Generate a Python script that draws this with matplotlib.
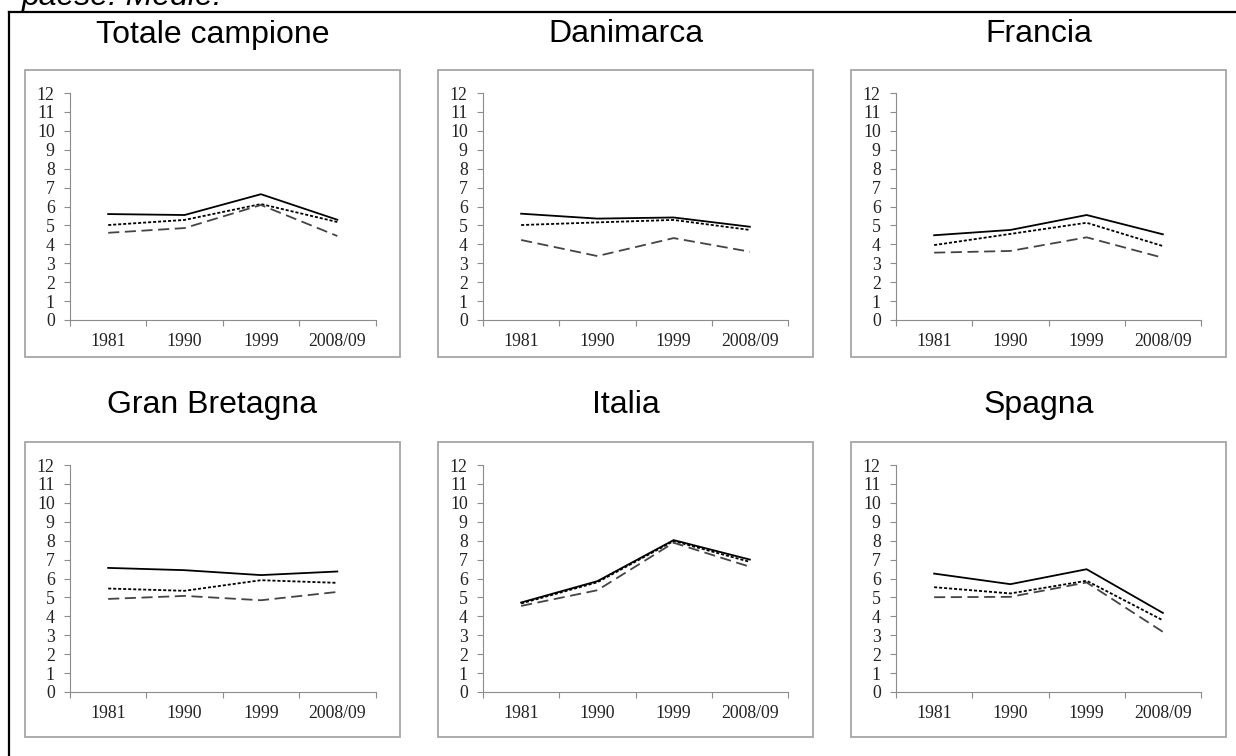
import matplotlib
matplotlib.use("Agg")
import matplotlib.pyplot as plt
from matplotlib.patches import Rectangle
from matplotlib.lines import Line2D

plt.rcParams['lines.scale_dashes'] = False

years = ["1981", "1990", "1999", "2008/09"]
countries = ["Totale campione", "Danimarca", "Francia",
             "Gran Bretagna", "Italia", "Spagna"]

# three series per panel: solid, dotted, dashed
solid = [
    [5.6, 5.55, 6.65, 5.3],
    [5.62, 5.36, 5.42, 4.93],
    [4.48, 4.76, 5.55, 4.53],
    [6.56, 6.44, 6.18, 6.37],
    [4.73, 5.86, 8.03, 7.0],
    [6.26, 5.7, 6.49, 4.18],
]
dotted = [
    [5.02, 5.29, 6.13, 5.18],
    [5.02, 5.16, 5.29, 4.76],
    [3.96, 4.55, 5.14, 3.91],
    [5.47, 5.35, 5.91, 5.77],
    [4.68, 5.8, 7.98, 6.88],
    [5.54, 5.21, 5.88, 3.79],
]
dashed = [
    [4.61, 4.86, 6.08, 4.44],
    [4.23, 3.38, 4.33, 3.61],
    [3.56, 3.65, 4.37, 3.29],
    [4.92, 5.08, 4.85, 5.29],
    [4.55, 5.38, 7.89, 6.62],
    [5.01, 5.03, 5.79, 3.18],
]

W, H = 1236, 756
fig = plt.figure(figsize=(W / 100, H / 100), dpi=100)

def fx(x):
    return x / W

def fy(y):
    return 1 - y / H

# caption cut off at the top, as in the scanned page
fig.text(fx(22), fy(5), "paese. Medie.", fontsize=23, style="italic",
         family="Liberation Sans", va="baseline", ha="left")

# outer frame (top and left edges visible)
fig.add_artist(Line2D([fx(9), 1.01], [fy(12), fy(12)], color="black", lw=1.6,
                      transform=fig.transFigure))
fig.add_artist(Line2D([fx(9), fx(9)], [fy(12), -0.01], color="black", lw=1.6,
                      transform=fig.transFigure))

box_cols = [(25, 400), (438, 813), (851, 1226)]
box_rows = [(70, 357), (442, 737)]
ax_cols = [(70, 375.5), (483, 788), (896, 1201)]
ax_rows = [(93, 320), (465, 692)]
title_base = [42.5, 412.8]

xs = [1, 2, 3, 4]

for i, name in enumerate(countries):
    r, c = divmod(i, 3)
    bx0, bx1 = box_cols[c]
    by0, by1 = box_rows[r]
    fig.add_artist(Rectangle((fx(bx0), fy(by1)), fx(bx1 - bx0), (by1 - by0) / H,
                             transform=fig.transFigure, fill=False,
                             edgecolor="#a6a6a6", lw=1.3))
    fig.text(fx((bx0 + bx1) / 2), fy(title_base[r]), name, fontsize=23,
             family="Liberation Sans", ha="center", va="baseline")

    x0, x1 = ax_cols[c]
    y0, y1 = ax_rows[r]
    ax = fig.add_axes([fx(x0), fy(y1), fx(x1 - x0), (y1 - y0) / H])
    ax.plot(xs, solid[i], color="black", lw=1.3)
    ax.plot(xs, dotted[i], color="black", lw=1.3, dashes=(2.2, 1.4))
    ax.plot(xs, dashed[i], color="#444444", lw=1.3, dashes=(8, 4))

    ax.set_xlim(0.5, 4.5)
    ax.set_ylim(0, 12)
    ax.set_yticks(range(13))
    ax.set_xticks(xs)
    ax.set_xticklabels(years)
    ax.set_xticks([0.5, 1.5, 2.5, 3.5, 4.5], minor=True)
    for s in ["top", "right"]:
        ax.spines[s].set_visible(False)
    for s in ["left", "bottom"]:
        ax.spines[s].set_color("#8c8c8c")
        ax.spines[s].set_linewidth(0.8)
    ax.tick_params(axis="y", length=4, width=0.8, color="#8c8c8c", pad=7,
                   labelsize=12.8, labelcolor="#222222")
    ax.tick_params(axis="x", which="major", length=0, pad=9,
                   labelsize=12.8, labelcolor="#222222")
    ax.tick_params(axis="x", which="minor", length=4, width=0.8, color="#8c8c8c")
    for lab in ax.get_xticklabels() + ax.get_yticklabels():
        lab.set_family("Liberation Serif")
    ax.patch.set_alpha(0)

fig.savefig("out.png", dpi=100)
